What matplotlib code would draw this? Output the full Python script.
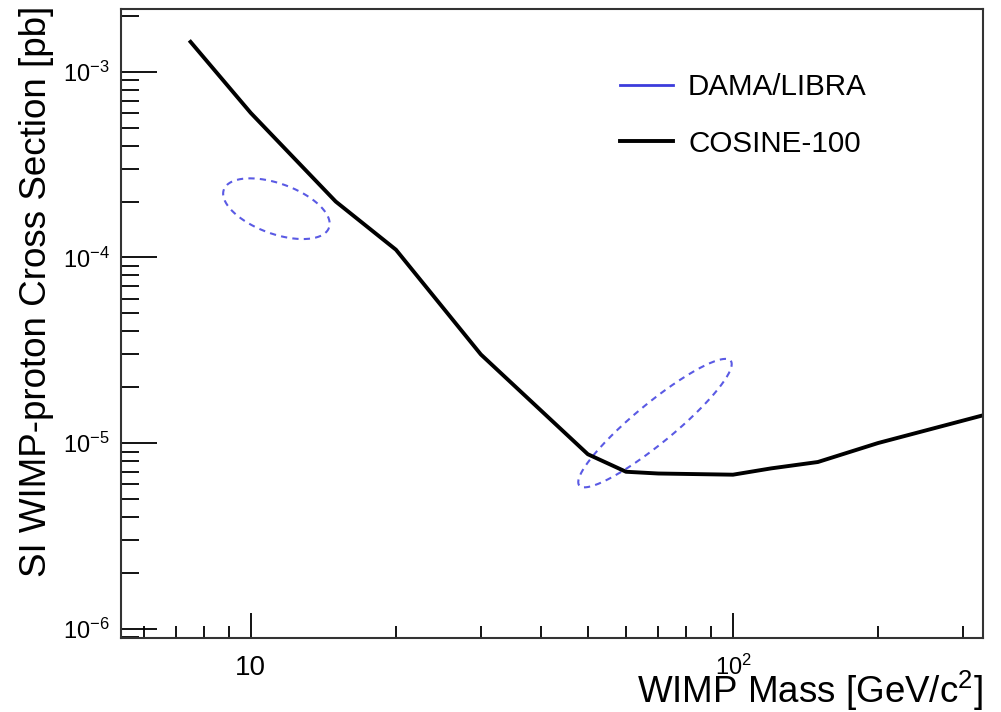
import numpy as np
import matplotlib
matplotlib.use("Agg")
import matplotlib.pyplot as plt
from matplotlib.lines import Line2D
from matplotlib.ticker import LogLocator, FuncFormatter, NullFormatter

plt.rcParams['font.family'] = ['Liberation Sans', 'DejaVu Sans']
plt.rcParams['mathtext.fontset'] = 'custom'
plt.rcParams['mathtext.rm'] = 'Liberation Sans'
plt.rcParams['mathtext.it'] = 'Liberation Sans:italic'

# COSINE-100 exclusion limit
cosine_mass = [7.5, 10, 15, 20, 30, 50, 60, 70, 100, 120, 150, 200, 330]
cosine_xsec = [1.45e-3, 6.0e-4, 2.0e-4, 1.1e-4, 3.0e-5, 8.7e-6, 7.0e-6,
               6.85e-6, 6.75e-6, 7.3e-6, 7.9e-6, 1.0e-5, 1.41e-5]

# DAMA/LIBRA allowed regions, drawn as ellipses in log10 space
dama_centre_mass = [11.3, 68.9]
dama_centre_xsec = [1.83e-4, 1.28e-5]
dama_major = [(0.109, -0.103), (0.157, 0.336)]
dama_minor = [(-0.018, -0.127), (0.026, -0.083)]

x_ticks = [10, 100]
x_ticklabels = ['10', r'$10^{2}$']

blue = '#5a5ae4'

fig = plt.figure(figsize=(10.01, 7.12), dpi=100)
ax = fig.add_axes([121/1001, 1 - 638/712, (983-121)/1001, (638-9)/712])

t = np.linspace(0, 2*np.pi, 300)
for cm, cs, a, b in zip(dama_centre_mass, dama_centre_xsec, dama_major, dama_minor):
    lx = np.log10(cm) + a[0]*np.cos(t) + b[0]*np.sin(t)
    ly = np.log10(cs) + a[1]*np.cos(t) + b[1]*np.sin(t)
    ax.plot(10**lx, 10**ly, color=blue, lw=1.5, linestyle=(0, (3, 2.5)))

ax.plot(cosine_mass, cosine_xsec, color='black', lw=2.8, solid_joinstyle='round')

ax.set_xscale('log')
ax.set_yscale('log')
ax.set_xlim(5.38, 330)
ax.set_ylim(8.9e-7, 2.18e-3)

ticks = ax.set_xticks(x_ticks, labels=x_ticklabels)
ax.xaxis.set_minor_locator(LogLocator(base=10, subs=np.arange(2, 10)))
ax.xaxis.set_minor_formatter(NullFormatter())
ax.yaxis.set_major_locator(LogLocator(base=10))
ax.yaxis.set_minor_locator(LogLocator(base=10, subs=np.arange(2, 10)))
ax.yaxis.set_minor_formatter(NullFormatter())
ax.yaxis.set_major_formatter(FuncFormatter(lambda v, p: r'$10^{%d}$' % round(np.log10(v))))

ax.tick_params(axis='x', which='major', direction='in', length=18, width=1.3, pad=12, labelsize=17)
ax.tick_params(axis='x', which='minor', direction='in', length=9, width=1.3)
ax.tick_params(axis='y', which='major', direction='in', length=26, width=1.3, pad=8, labelsize=17)
ax.tick_params(axis='y', which='minor', direction='in', length=13, width=1.3)
ax.get_xticklabels()[0].set_fontsize(20)
for s in ax.spines.values():
    s.set_linewidth(1.5)
    s.set_color('#333333')

fig.text(983/1001, 1 - 691/712, r'WIMP Mass [GeV/c$^{2}$]', ha='right', va='center', fontsize=26.5)
fig.text(37/1001, 1 - 6/712, 'SI WIMP-proton Cross Section [pb]', ha='center', va='top',
         rotation=90, fontsize=26.5)

handles = [Line2D([], [], color='#3c3cdc', lw=2),
           Line2D([], [], color='black', lw=2.8)]
ax.legend(handles, ['DAMA/LIBRA', 'COSINE-100'], frameon=False, fontsize=21.3,
          loc='upper left', bbox_to_anchor=(620/1001, 1 - 73/712), bbox_transform=fig.transFigure,
          borderpad=0, borderaxespad=0, handlelength=1.8, handletextpad=0.5, labelspacing=0.97)

fig.savefig('out.png', dpi=100)
